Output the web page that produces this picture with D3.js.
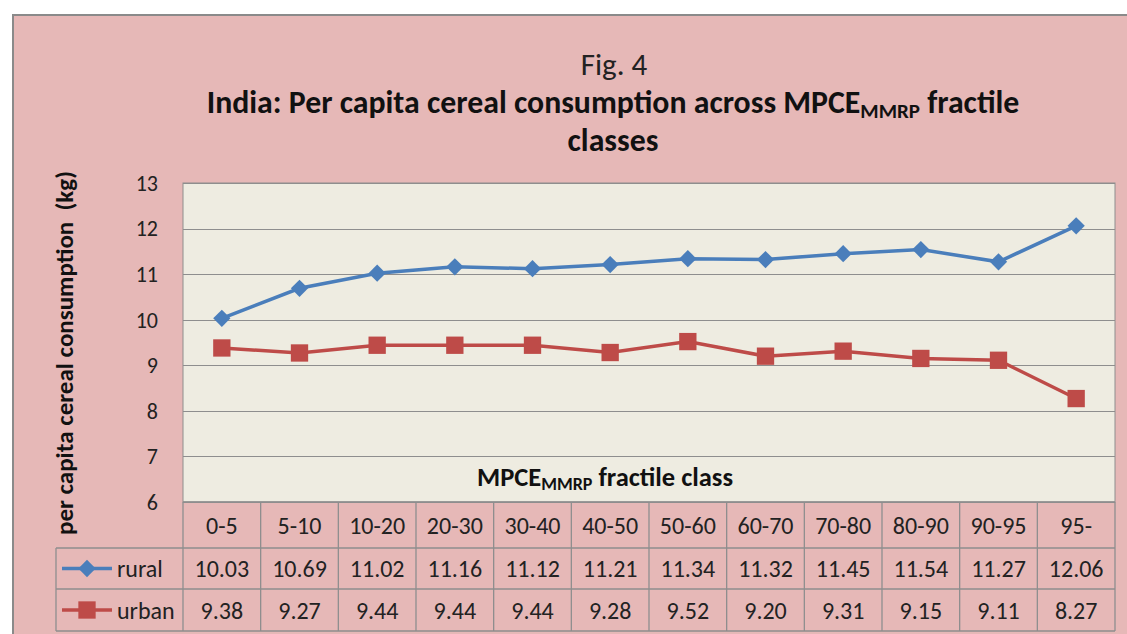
<!DOCTYPE html>
<html><head><meta charset="utf-8">
<script src="https://cdn.jsdelivr.net/npm/d3@7"></script>
<style>
html,body{margin:0;padding:0;background:#fff;}
svg{display:block;font-family:Calibri,Carlito,Lato,sans-serif;}
</style></head>
<body>
<svg id="c" width="1127" height="634"></svg>
<script>
const categories = ["0-5","5-10","10-20","20-30","30-40","40-50","50-60","60-70","70-80","80-90","90-95","95-"];
const rural = [10.03,10.69,11.02,11.16,11.12,11.21,11.34,11.32,11.45,11.54,11.27,12.06];
const urban = [9.38,9.27,9.44,9.44,9.44,9.28,9.52,9.20,9.31,9.15,9.11,8.27];
const yTicks = [6,7,8,9,10,11,12,13];
const seriesNames = ["rural","urban"];

const svg = d3.select("#c");
const W = 1127, H = 634;
const pink = "#e6b8b7", plotBg = "#eeece1", gridC = "#8e8e8e";
const blue = "#4a7ebb", red = "#be4b48";

// chart area
svg.append("rect").attr("x",13).attr("y",15).attr("width",W).attr("height",H)
  .attr("fill",pink).attr("stroke","#8a8a8a").attr("stroke-width",2);

const L = 183, R = 1115, T = 183, B = 502;
const x = d3.scaleBand().domain(categories).range([L,R]).padding(0);
const y = d3.scaleLinear().domain([6,13]).range([B,T]);

// plot area
svg.append("rect").attr("x",L).attr("y",T).attr("width",R-L).attr("height",B-T)
  .attr("fill",plotBg).attr("stroke",gridC).attr("stroke-width",1);

// gridlines
svg.append("g").selectAll("line").data(yTicks).join("line")
  .attr("x1",L).attr("x2",R).attr("y1",d=>Math.round(y(d))+0.5).attr("y2",d=>Math.round(y(d))+0.5)
  .attr("stroke",gridC).attr("stroke-width",1.2);

// y tick labels
svg.append("g").selectAll("text").data(yTicks).join("text")
  .attr("x",158).attr("y",d=>y(d)).attr("dy","0.36em").attr("text-anchor","end")
  .attr("font-size",22).attr("fill","#222").text(d=>d);

// y axis title
svg.append("text").attr("transform","translate(73,353) rotate(-90)")
  .attr("text-anchor","middle").attr("font-size",25).attr("font-weight","bold").attr("fill","#111")
  .attr("xml:space","preserve")
  .text("per capita cereal consumption  (kg)");

// titles
svg.append("text").attr("x",614).attr("y",75).attr("text-anchor","middle")
  .attr("font-size",31).attr("fill","#222").text("Fig. 4");
const t1 = svg.append("text").attr("x",613).attr("y",113).attr("text-anchor","middle")
  .attr("font-size",31.8).attr("font-weight","bold").attr("fill","#111");
t1.append("tspan").text("India: Per capita cereal consumption across MPCE");
t1.append("tspan").attr("font-size",21).attr("dy",5).text("MMRP");
t1.append("tspan").attr("dy",-5).text(" fractile");
svg.append("text").attr("x",613).attr("y",151).attr("text-anchor","middle")
  .attr("font-size",31.8).attr("font-weight","bold").attr("fill","#111").text("classes");

// x axis title
const xt = svg.append("text").attr("x",605).attr("y",486).attr("text-anchor","middle")
  .attr("font-size",26.5).attr("font-weight","bold").attr("fill","#111");
xt.append("tspan").text("MPCE");
xt.append("tspan").attr("font-size",18).attr("dy",4).text("MMRP");
xt.append("tspan").attr("dy",-4).text(" fractile class");

// lines
const line = d3.line().x((d,i)=>x(categories[i])+x.bandwidth()/2).y(d=>y(d));
svg.append("path").datum(urban).attr("d",line).attr("fill","none").attr("stroke",red).attr("stroke-width",3.5);
svg.append("path").datum(rural).attr("d",line).attr("fill","none").attr("stroke",blue).attr("stroke-width",3.5);

const sq = d3.symbol().type(d3.symbolSquare).size(300);
const dm = d3.symbol().type(d3.symbolDiamond2).size(190);
svg.append("g").selectAll("path").data(urban).join("path")
  .attr("d",sq).attr("fill",red)
  .attr("transform",(d,i)=>`translate(${x(categories[i])+x.bandwidth()/2},${y(d)})`);
svg.append("g").selectAll("path").data(rural).join("path")
  .attr("d",dm).attr("fill",blue)
  .attr("transform",(d,i)=>`translate(${x(categories[i])+x.bandwidth()/2},${y(d)})`);

// data table
const rowY = [502, 548, 589, 631];
const LegL = 56;
const tg = svg.append("g");
const tl = (x1,y1,x2,y2)=>tg.append("line").attr("x1",x1).attr("y1",y1).attr("x2",x2).attr("y2",y2)
  .attr("stroke",gridC).attr("stroke-width",1.3);
tl(L,rowY[0],R,rowY[0]);
tl(LegL,rowY[1],R,rowY[1]);
tl(LegL,rowY[2],R,rowY[2]);
tl(LegL,rowY[3],R,rowY[3]);
tl(LegL,rowY[1],LegL,rowY[3]);
categories.forEach(c=>tl(x(c),rowY[0],x(c),rowY[3]));
tl(R,rowY[0],R,rowY[3]);

const tfs = 24;
tg.selectAll("text.cat").data(categories).join("text").attr("class","cat")
  .attr("x",d=>x(d)+x.bandwidth()/2).attr("y",(rowY[0]+rowY[1])/2).attr("dy","0.36em")
  .attr("text-anchor","middle").attr("font-size",tfs).attr("fill","#222").text(d=>d);
[rural,urban].forEach((arr,r)=>{
  tg.append("g").selectAll("text").data(arr).join("text")
    .attr("x",(d,i)=>x(categories[i])+x.bandwidth()/2).attr("y",(rowY[r+1]+rowY[r+2])/2).attr("dy","0.36em")
    .attr("text-anchor","middle").attr("font-size",tfs).attr("fill","#222").text(d=>d.toFixed(2));
});
seriesNames.forEach((n,r)=>{
  const cy = (rowY[r+1]+rowY[r+2])/2;
  const col = r===0?blue:red;
  tg.append("line").attr("x1",62).attr("x2",112).attr("y1",cy).attr("y2",cy).attr("stroke",col).attr("stroke-width",3.5);
  tg.append("path").attr("d",r===0?dm:sq).attr("fill",col).attr("transform",`translate(87,${cy})`);
  tg.append("text").attr("x",117).attr("y",cy).attr("dy","0.36em").attr("font-size",tfs).attr("fill","#222").text(n);
});
</script>
</body></html>
